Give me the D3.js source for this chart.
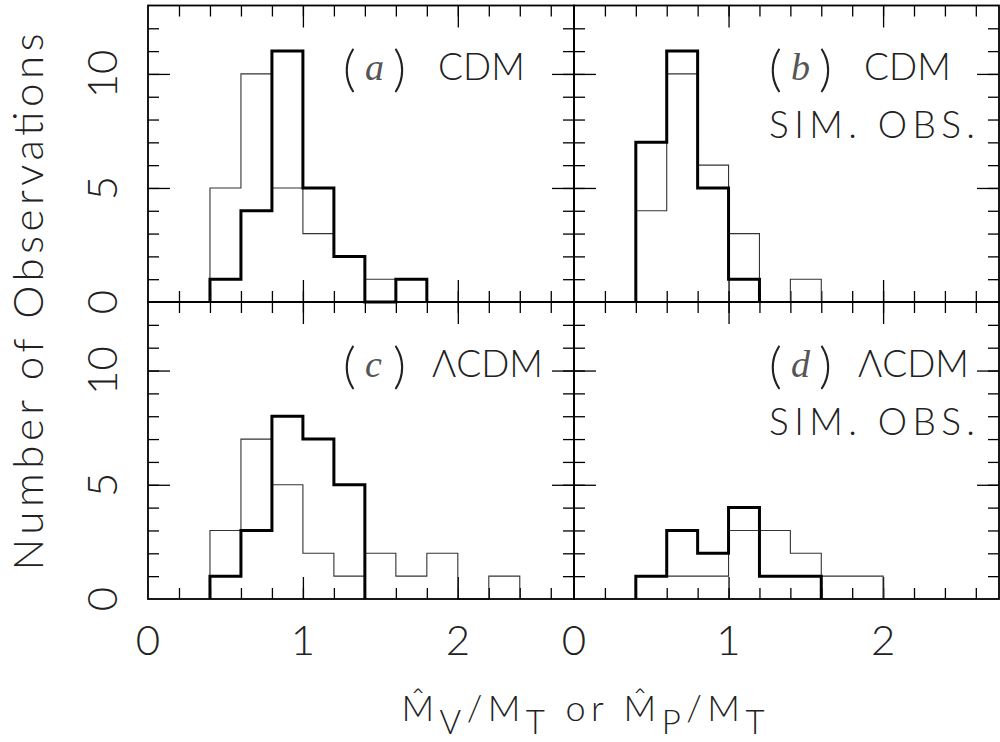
<!DOCTYPE html>
<html>
<head>
<meta charset="utf-8">
<script src="https://cdn.jsdelivr.net/npm/d3@7"></script>
<style>
body{margin:0;background:#fff;}
svg{display:block;}
text{font-family:Lato,"DejaVu Sans",sans-serif;font-weight:300;fill:#222;}
.serif{font-family:"Liberation Serif","DejaVu Serif",serif;font-weight:normal;fill:#555;}
</style>
</head>
<body>
<svg></svg>
<script>
// Histogrammes : classes de largeur 0.2 a partir de 0.4
var binStart = 0.4;
var binWidth = 0.2;

// (a) CDM
var countsA_thin  = [5, 10, 5, 3, 2, 1];
var countsA_thick = [1, 4, 11, 5, 2, 0, 1];
// (b) CDM sim. obs.
var countsB_thin  = [4, 10, 6, 3, 0, 1];
var countsB_thick = [7, 11, 5, 1];
// (c) LCDM
var countsC_thin  = [3, 7, 5, 2, 1, 2, 1, 2, 0, 1];
var countsC_thick = [1, 3, 8, 7, 5];
// (d) LCDM sim. obs.
var countsD_thin  = [1, 1, 1, 3, 3, 2, 1, 1];
var countsD_thick = [1, 3, 2, 4, 1, 1];

var panelTag   = ["a", "b", "c", "d"];
var panelModel = ["CDM", "CDM", "\u039BCDM", "\u039BCDM"];
var panelSim   = [false, true, false, true];
var thinCounts  = [countsA_thin, countsB_thin, countsC_thin, countsD_thin];
var thickCounts = [countsA_thick, countsB_thick, countsC_thick, countsD_thick];

var xDomain = [0, 2.75];
var yDomain = [0, 13];
var xTickLabels = [0, 1, 2];
var yTickLabels = [0, 5, 10];
var xMinorTicks = d3.range(1, 14).map(function(i){ return i * 0.2; });
var xMajorTicks = [1, 2];
var yMinorTicks = d3.range(1, 13);
var yMajorTicks = [5, 10];

var svg = d3.select("svg").attr("width", 1000).attr("height", 742);

// geometrie des 4 cadres
var cols = [[148, 574], [574, 999]];
var rows = [[5.5, 302], [302, 599]];

function ticks(g, axis, values, size)
{
	g.call(axis.tickValues(values).tickSize(size).tickFormat(""));
	g.select(".domain").remove();
	g.selectAll(".tick line").attr("stroke", "#000").attr("stroke-width", 1.3);
}

panelTag.forEach(function(tag, i)
{
	var col = cols[i % 2], row = rows[Math.floor(i / 2)];
	var x = d3.scaleLinear().domain(xDomain).range(col);
	var y = d3.scaleLinear().domain(yDomain).range([row[1], row[0]]);
	var g = svg.append("g");

	//Graduations sur les 4 cotes
	[[xMinorTicks, 11], [xMajorTicks, 22]].forEach(function(t)
	{
		ticks(g.append("g").attr("transform", "translate(0," + row[1] + ")"), d3.axisTop(x), t[0], t[1]);
		ticks(g.append("g").attr("transform", "translate(0," + row[0] + ")"), d3.axisBottom(x), t[0], t[1]);
	});
	[[yMinorTicks, 11], [yMajorTicks, 22]].forEach(function(t)
	{
		ticks(g.append("g").attr("transform", "translate(" + col[0] + ",0)"), d3.axisRight(y), t[0], t[1]);
		ticks(g.append("g").attr("transform", "translate(" + col[1] + ",0)"), d3.axisLeft(y), t[0], t[1]);
	});

	//Histogrammes en escalier
	function stepPoints(counts)
	{
		var pts = [[binStart, 0]];
		counts.forEach(function(c, k){ pts.push([binStart + k * binWidth, c]); });
		pts.push([binStart + counts.length * binWidth, 0]);
		return pts;
	}
	var line = d3.line()
		.x(function(d){ return x(d[0]); })
		.y(function(d){ return y(d[1]); })
		.curve(d3.curveStepAfter);

	g.append("path")
	 .attr("d", line(stepPoints(thinCounts[i])))
	 .attr("fill", "none")
	 .attr("stroke", "#333")
	 .attr("stroke-width", 1.1);
	g.append("path")
	 .attr("d", line(stepPoints(thickCounts[i])))
	 .attr("fill", "none")
	 .attr("stroke", "#000")
	 .attr("stroke-width", 3);

	//Cadre
	g.append("rect")
	 .attr("x", col[0]).attr("y", row[0])
	 .attr("width", col[1] - col[0]).attr("height", row[1] - row[0])
	 .attr("fill", "none")
	 .attr("stroke", "#000")
	 .attr("stroke-width", 1.8);

	//Etiquette du panneau
	var lx = col[0] + 195, ly = row[0] + 74.5;
	g.append("text").attr("x", lx).attr("y", ly + 6)
	 .style("font-size", "50px").text("(");
	g.append("text").attr("class", "serif").attr("x", lx + 22).attr("y", ly)
	 .style("font-size", "38px").style("font-style", "italic").text(tag);
	g.append("text").attr("x", lx + 50).attr("y", ly + 6)
	 .style("font-size", "50px").text(")");
	g.append("text").attr("x", lx + (i < 2 ? 95 : 89)).attr("y", ly)
	 .style("font-size", "37px").text(panelModel[i]);
	if(panelSim[i])
	{
		g.append("text").attr("x", lx).attr("y", ly + 58)
		 .attr("textLength", 206).attr("lengthAdjust", "spacing")
		 .style("font-size", "37px").text("SIM. OBS.");
	}

	//Valeurs des axes
	if(i % 2 === 0)
	{
		yTickLabels.forEach(function(v)
		{
			svg.append("text")
			   .attr("transform", "translate(117," + y(v) + ") rotate(-90)")
			   .attr("text-anchor", "middle")
			   .style("font-size", "42px")
			   .text(v);
		});
	}
	if(i >= 2)
	{
		xTickLabels.forEach(function(v)
		{
			svg.append("text")
			   .attr("x", x(v)).attr("y", 655)
			   .attr("text-anchor", "middle")
			   .style("font-size", "42px")
			   .text(v);
		});
	}
});

//Titres des axes
svg.append("text")
   .attr("transform", "translate(43,302) rotate(-90)")
   .attr("text-anchor", "middle")
   .attr("textLength", 537).attr("lengthAdjust", "spacing")
   .style("font-size", "42px")
   .text("Number of Observations");

var xt = svg.append("text")
   .attr("x", 583).attr("y", 721)
   .attr("text-anchor", "middle")
   .attr("textLength", 363).attr("lengthAdjust", "spacing")
   .style("font-size", "36px");
xt.append("tspan").text("M\u0302");
xt.append("tspan").attr("dy", 13).style("font-size", "33px").text("V");
xt.append("tspan").attr("dy", -13).text("/M");
xt.append("tspan").attr("dy", 13).style("font-size", "33px").text("T");
xt.append("tspan").attr("dy", -13).text(" or M\u0302");
xt.append("tspan").attr("dy", 13).style("font-size", "33px").text("P");
xt.append("tspan").attr("dy", -13).text("/M");
xt.append("tspan").attr("dy", 13).style("font-size", "33px").text("T");
</script>
</body>
</html>
